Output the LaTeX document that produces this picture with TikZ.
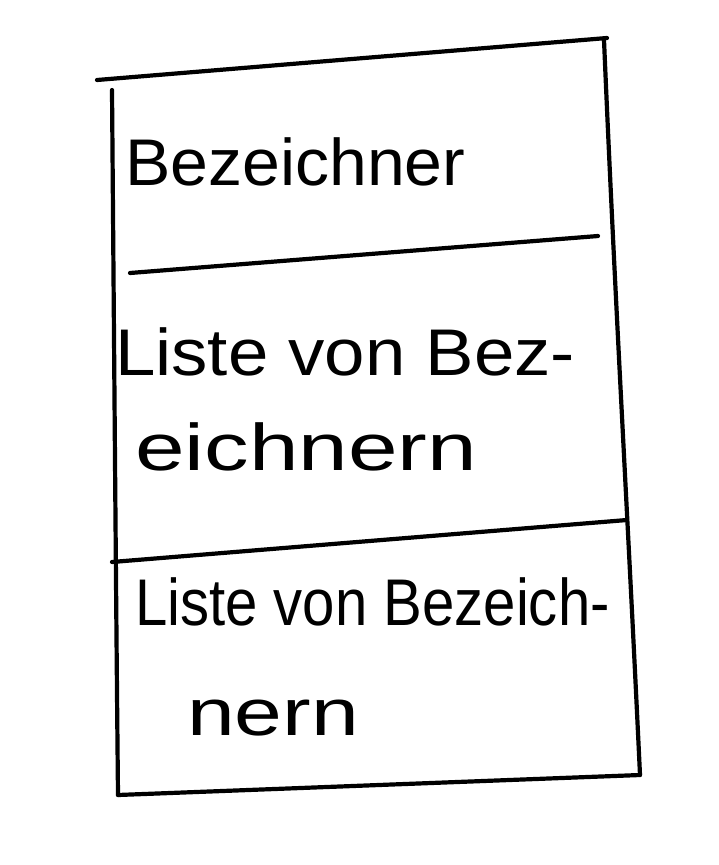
\documentclass[tikz,border=0pt]{standalone}
\usepackage{fontspec}
\setmainfont{Liberation Sans}
\begin{document}
\begin{tikzpicture}[x=1pt,y=-1pt,
  stroke/.style={line width=4.2pt,line cap=round,line join=round,draw=black},
  hand/.style={anchor=base west,inner sep=0pt,font=\fontsize{66}{72}\selectfont}]
\useasboundingbox[fill=white] (0,0) rectangle (718,865);
% corner coordinates
\coordinate (tl) at (97,80);
\coordinate (tr) at (607,38);
\coordinate (rt) at (604,40);
\coordinate (br) at (640,775);
\coordinate (bl) at (118,795);
\coordinate (lt) at (112,90);
\coordinate (d1a) at (130,273);
\coordinate (d1b) at (598,236);
\coordinate (d2a) at (112,562);
\coordinate (d2b) at (627,520);
% outline
\draw[stroke] (tl) -- (tr);
\draw[stroke] (rt) .. controls (615,300) and (628,520) .. (br);
\draw[stroke] (bl) -- (br);
\draw[stroke] (lt) .. controls (114,330) and (116,600) .. (bl);
\draw[stroke] (d1a) -- (d1b);
\draw[stroke] (d2a) -- (d2b);
% texts
\node[hand] (t1) at (125,185) {\scalebox{1.03}[1]{Bezeichner}};
\node[hand] (t2a) at (115,375) {\scalebox{1.1}[1]{Liste von Bez-}};
\node[hand] (t2b) at (135,470) {\scalebox{1.35}[1]{eichnern}};
\node[hand] (t3a) at (135,625) {\scalebox{0.88}[1]{Liste von Bezeich-}};
\node[hand] (t3b) at (187,735) {\scalebox{1.3}[1]{nern}};
\end{tikzpicture}
\end{document}
